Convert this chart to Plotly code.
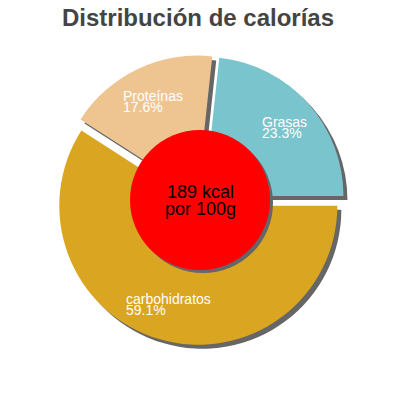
import math
import plotly.graph_objects as go

# data
labels = ["Grasas", "carbohidratos", "Proteínas"]
values = [23.3, 59.1, 17.6]
colors = ["#7AC5CD", "#DAA520", "#EEC591"]
center_lines = ["189 kcal", "por 100g"]
title_text = "Distribución de calorías"

W = H = 400
page_off = 8           # browser body margin pushes the plot 8px right/down
cx, cy = 200 - page_off, 200 - page_off   # pie centre in px
box = 290              # pie box size in px
pull = 0.043
shadow = 4             # drop shadow offset in px
hole_r = 70            # red centre disc radius in px
r = box / (2 + 2 * pull)

total = sum(values)
# first slice (Grasas) ends at 3 o'clock
rotation = 90 - 360 * values[0] / total


def pie_domain(off=0):
    return dict(x=[(cx - box / 2 + off) / W, (cx + box / 2 + off) / W],
                y=[1 - (cy + box / 2 + off) / H, 1 - (cy - box / 2 + off) / H])


fig = go.Figure()

# shadow pie
fig.add_trace(go.Pie(
    values=values, labels=labels, sort=False, direction="clockwise",
    rotation=rotation, pull=pull, textinfo="none", hoverinfo="skip",
    marker=dict(colors=["#666666"] * len(values), line=dict(width=0)),
    domain=pie_domain(shadow), showlegend=False,
))

# main pie
fig.add_trace(go.Pie(
    values=values, labels=labels, sort=False, direction="clockwise",
    rotation=rotation, pull=pull, textinfo="none",
    marker=dict(colors=colors, line=dict(width=0)),
    domain=pie_domain(0), showlegend=False,
))

# red centre disc with its shadow
for off, col in [(3, "#666666"), (0, "red")]:
    fig.add_shape(type="circle", xref="paper", yref="paper", layer="above",
                  x0=(cx - hole_r + off) / W, x1=(cx + hole_r + off) / W,
                  y0=1 - (cy + hole_r + off) / H, y1=1 - (cy - hole_r + off) / H,
                  fillcolor=col, line=dict(width=0))

# slice labels, placed along each slice's mid angle
lab_font = dict(family="Liberation Sans, Arial, sans-serif", size=14, color="white")
cum = 0
for name, v in zip(labels, values):
    mid = math.radians(rotation + 360 * (cum + v / 2) / total)
    cum += v
    d = 0.785 * r
    px = cx + d * math.sin(mid)
    py = cy - d * math.cos(mid)
    pct = f"{v:.1f}%"
    w = max(len(name), len(pct)) * 7
    left = (px - w / 2) / W
    fig.add_annotation(x=left, y=1 - py / H, xref="paper", yref="paper",
                       text=name, showarrow=False, xanchor="left", yanchor="middle",
                       yshift=5.5, font=lab_font)
    fig.add_annotation(x=left, y=1 - py / H, xref="paper", yref="paper",
                       text=pct, showarrow=False, xanchor="left", yanchor="middle",
                       yshift=-5.5, font=lab_font)

# centre text
c_font = dict(family="Liberation Sans, Arial, sans-serif", size=18, color="black")
for i, line in enumerate(center_lines):
    fig.add_annotation(x=cx / W, y=1 - cy / H, xref="paper", yref="paper",
                       text=line, showarrow=False, xanchor="center", yanchor="middle",
                       yshift=8.5 - 17 * i, font=c_font)

fig.update_layout(
    width=W, height=H,
    margin=dict(l=0, r=0, t=0, b=0),
    paper_bgcolor="white", plot_bgcolor="white",
    title=dict(text="<b>" + title_text + "</b>", x=(W / 2 - page_off - 2) / W, xanchor="center",
               y=1 - (18 - page_off) / H, yanchor="middle",
               font=dict(family="Liberation Sans, Arial, sans-serif", size=24, color="#444444")),
)

fig.write_html("out.html")
